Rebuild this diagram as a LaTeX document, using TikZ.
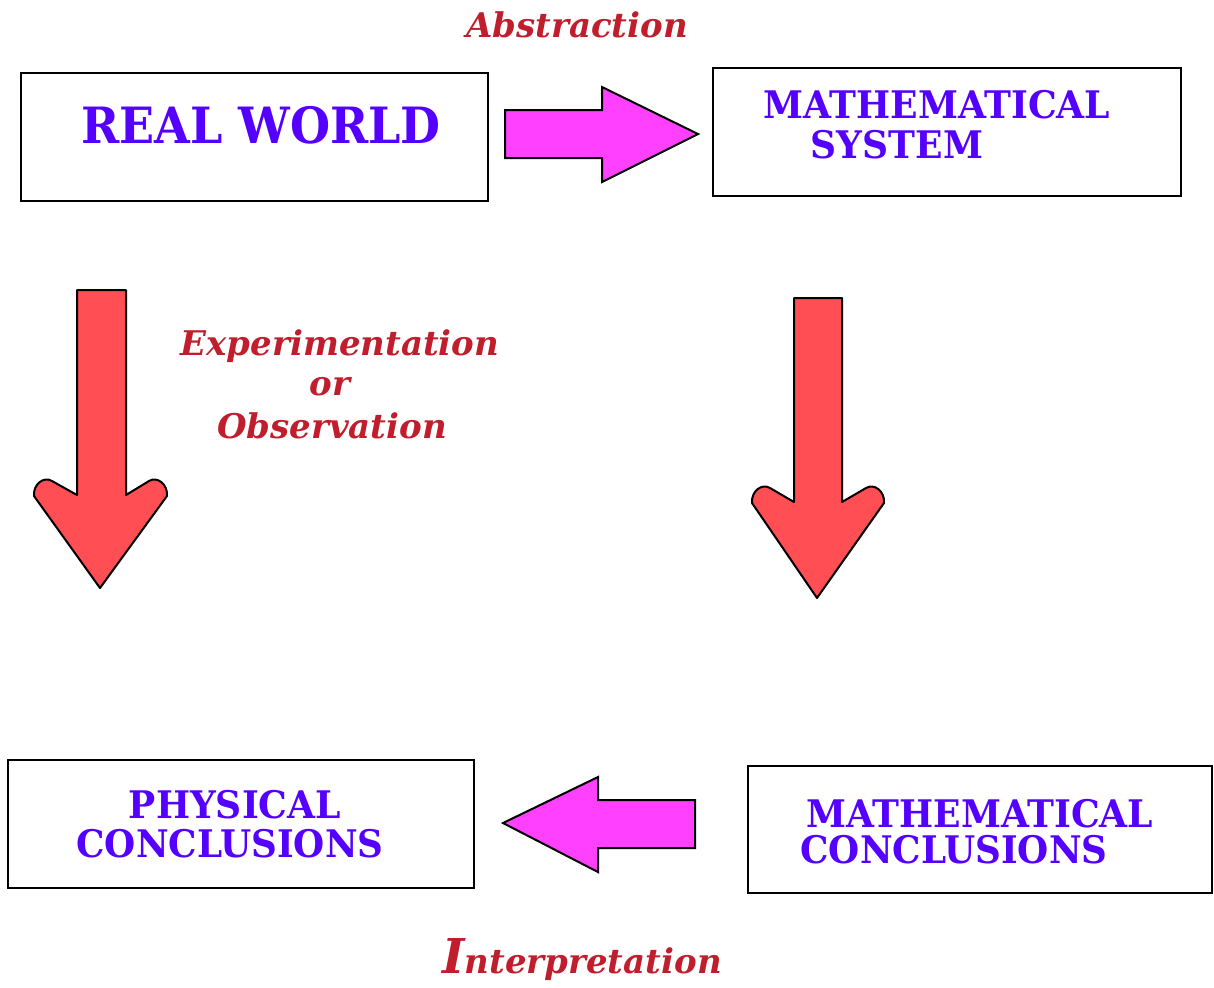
\documentclass[tikz,border=0pt]{standalone}
\usepackage{fontspec}
\setmainfont{DejaVu Serif}
\usetikzlibrary{positioning}
\definecolor{boxblue}{RGB}{85,0,255}
\definecolor{labelred}{RGB}{192,30,45}
\definecolor{arrowred}{RGB}{255,78,84}
\definecolor{arrowpink}{RGB}{255,64,255}
\newcommand{\narrow}[2]{\scalebox{#1}[1]{#2}}
\tikzset{
    worldbox/.style={draw=black, line width=1pt, fill=white},
    bigtext/.style={anchor=base, text=boxblue, font=\bfseries\fontsize{25}{25}\selectfont},
    boxtext/.style={anchor=base, text=boxblue, font=\bfseries\fontsize{19}{19}\selectfont},
    steplabel/.style={anchor=base, text=labelred, font=\bfseries\itshape\fontsize{17}{17}\selectfont},
    downarrow/.style={draw=black, fill=arrowred, line width=1pt, line join=round},
    sidearrow/.style={draw=black, fill=arrowpink, line width=1pt}
}

\begin{document}
\begin{tikzpicture}[x=0.5pt, y=-0.5pt]
        \useasboundingbox (0,0) rectangle (1214,987);

        % -----------------------------------------------------------------
        % BOXES
        % -----------------------------------------------------------------
        \draw[worldbox] (21,73) rectangle (488,201);
        \draw[worldbox] (713,68) rectangle (1181,196);
        \draw[worldbox] (8,760) rectangle (474,888);
        \draw[worldbox] (748,766) rectangle (1212,893);

        \node[bigtext] (realworld) at (261,143) {\narrow{0.92}{REAL WORLD}};
        \node[boxtext] (mathsys1) at (937,118) {\narrow{0.95}{MATHEMATICAL}};
        \node[boxtext] (mathsys2) at (897,158) {\narrow{0.95}{SYSTEM}};
        \node[boxtext] (phys1) at (235,818) {\narrow{0.95}{PHYSICAL}};
        \node[boxtext] (phys2) at (230,857) {\narrow{0.94}{CONCLUSIONS}};
        \node[boxtext] (mathcon1) at (980,827) {\narrow{0.95}{MATHEMATICAL}};
        \node[boxtext] (mathcon2) at (954,863) {\narrow{0.94}{CONCLUSIONS}};

        % -----------------------------------------------------------------
        % ARROWS
        % -----------------------------------------------------------------
        \draw[sidearrow] (505,110) -- (602,110) -- (602,87) -- (698,134)
            -- (602,182) -- (602,158) -- (505,158) -- cycle;
        \draw[sidearrow] (695,800) -- (598,800) -- (598,777) -- (503,823)
            -- (598,872) -- (598,848) -- (695,848) -- cycle;

        \draw[downarrow] (77,290) -- (126,290) -- (126,495) -- (149,481)
            .. controls (157,476) and (168,484) .. (167,496) -- (100,588)
            -- (34,496) .. controls (33,484) and (44,476) .. (52,481)
            -- (77,495) -- cycle;
        \draw[downarrow] (794,298) -- (842,298) -- (842,502) -- (866,488)
            .. controls (874,483) and (885,491) .. (884,503) -- (817,598)
            -- (752,503) .. controls (751,491) and (762,483) .. (770,488)
            -- (794,502) -- cycle;

        % -----------------------------------------------------------------
        % LABELS
        % -----------------------------------------------------------------
        \node[steplabel] (abstraction) at (577,37) {Abstraction};
        \node[steplabel] (experiment) at (340,355) {Experimentation};
        \node[steplabel] (or) at (330,395) {or};
        \node[steplabel] (observation) at (332,438) {Observation};
        \node[steplabel] (interpretation) at (582,973)
            {{\fontsize{24}{24}\selectfont I}nterpretation};

\end{tikzpicture}
\end{document}
